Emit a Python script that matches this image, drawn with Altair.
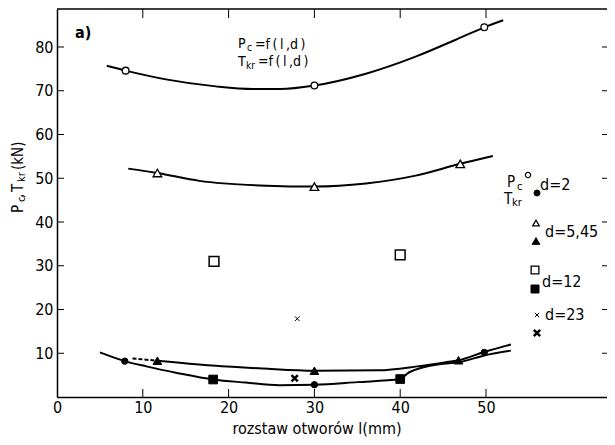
import altair as alt
import pandas as pd

# ---------------- data ----------------
X_TICKS = [0, 10, 20, 30, 40, 50]
Y_TICKS = [10, 20, 30, 40, 50, 60, 70, 80]
INNER_X_TICKS = [10, 20, 30, 40, 50]

# P_c (open markers)
pc_d2_x = [8.0, 30.0, 49.8]
pc_d2_y = [74.6, 71.2, 84.5]
pc_d545_x = [11.7, 30.0, 47.0]
pc_d545_y = [51.2, 48.1, 53.3]
pc_d12_x = [18.3, 40.0]
pc_d12_y = [31.0, 32.5]
pc_d23_x = [28.0]
pc_d23_y = [17.9]

# T_kr (filled markers)
tkr_d2_x = [7.9, 30.0, 49.8]
tkr_d2_y = [8.2, 2.8, 10.2]
tkr_d545_x = [11.7, 30.0, 46.8]
tkr_d545_y = [8.3, 6.0, 8.4]
tkr_d12_x = [18.2, 40.0]
tkr_d12_y = [4.0, 4.1]
tkr_d23_x = [27.7]
tkr_d23_y = [4.3]

# hand-drawn curves
curve_pc_d2_x = [5.8, 8.0, 12.7, 18.5, 22.8, 26.0, 30.0, 36.0, 41.8, 46.4, 49.8, 52.0]
curve_pc_d2_y = [75.7, 74.6, 72.6, 71.0, 70.4, 70.4, 71.2, 73.9, 77.8, 81.6, 84.5, 86.1]
curve_pc_d545_x = [8.3, 11.7, 16.6, 24.4, 30.0, 36.0, 41.8, 47.0, 50.8]
curve_pc_d545_y = [52.2, 51.2, 49.4, 48.3, 48.1, 48.8, 50.6, 53.3, 55.1]
curve_tkr_up_x = [11.7, 18.1, 24.0, 30.0, 37.5, 42.0, 45.2, 46.8, 49.8, 52.9]
curve_tkr_up_y = [8.3, 7.2, 6.5, 6.0, 6.1, 7.0, 7.9, 8.4, 10.3, 12.0]
curve_tkr_up_dash_x = [8.8, 11.7]
curve_tkr_up_dash_y = [8.8, 8.3]
curve_tkr_low_x = [5.0, 7.9, 10.4, 14.0, 18.2, 22.0, 25.9, 30.0, 35.0, 40.0, 41.0, 45.0, 47.0, 49.8, 52.9]
curve_tkr_low_y = [10.2, 8.2, 7.0, 5.5, 4.0, 3.3, 2.7, 2.8, 3.4, 4.1, 5.6, 7.6, 8.0, 9.5, 10.6]

# ---------------- layout ----------------
X0_PAGE, Y0_PAGE = 57, 397          # page position of the data origin
TOP_PAGE = 9
W, H = 550, Y0_PAGE - TOP_PAGE
PXU_X, PXU_Y = 8.58, (Y0_PAGE - 47) / 80.0   # pixels per data unit
XMAX, YMAX = W / PXU_X, H / PXU_Y
FONT = "DejaVu Sans Condensed, Liberation Sans Narrow, Roboto Condensed, DejaVu Sans, sans-serif"
XPATH = "M-1,-1L1,1M-1,1L1,-1"

def dx(p):
    return (p - X0_PAGE) / PXU_X

def dy(p):
    return (Y0_PAGE - p) / PXU_Y

xs = alt.Scale(domain=[0, XMAX], nice=False, zero=False)
ys = alt.Scale(domain=[0, YMAX], nice=False, zero=False)
XAX = alt.Axis(values=X_TICKS, format="d", title=None, labelFlush=False, ticks=False, grid=False,
               labelPadding=2, labelFontSize=16, labelFont=FONT, labelColor="black",
               domainColor="black", domainWidth=1.5)
YAX = alt.Axis(values=Y_TICKS, format="d", title=None, labelFlush=False, ticks=False, grid=False,
               labelPadding=4, labelFontSize=16, labelFont=FONT, labelColor="black",
               domainColor="black", domainWidth=1.5)

def X(f="x"):
    return alt.X(f"{f}:Q", scale=xs, axis=XAX)

def Y(f="y"):
    return alt.Y(f"{f}:Q", scale=ys, axis=YAX)

# ---------- curves ----------
def curve_df(name, xv, yv):
    return pd.DataFrame({"x": xv, "y": yv, "s": name})

curves = pd.concat([
    curve_df("pc2", curve_pc_d2_x, curve_pc_d2_y),
    curve_df("pc545", curve_pc_d545_x, curve_pc_d545_y),
    curve_df("tup", curve_tkr_up_x, curve_tkr_up_y),
    curve_df("tlow", curve_tkr_low_x, curve_tkr_low_y),
])
lines = alt.Chart(curves).mark_line(color="black", strokeWidth=2, interpolate="monotone").encode(
    x=X(), y=Y(), detail="s:N", order=alt.Order("x:Q"))
dash = alt.Chart(curve_df("tdash", curve_tkr_up_dash_x, curve_tkr_up_dash_y)).mark_line(
    color="black", strokeWidth=2, strokeDash=[4, 2]).encode(x=X(), y=Y())

# ---------- markers ----------
def marker_df(xv, yv, shape, size, sw, fill):
    return pd.DataFrame({"x": xv, "y": yv, "shape": shape, "size": size, "sw": sw, "fill": fill})

markers = pd.concat([
    marker_df(pc_d2_x, pc_d2_y, "circle", 45, 1.3, "white"),
    marker_df(pc_d545_x, pc_d545_y, "triangle-up", 75, 1.3, "white"),
    marker_df(pc_d12_x, pc_d12_y, "square", 95, 1.5, "white"),
    marker_df(pc_d23_x, pc_d23_y, XPATH, 22, 1.0, "black"),
    marker_df(tkr_d2_x, tkr_d2_y, "circle", 40, 1.0, "black"),
    marker_df(tkr_d545_x, tkr_d545_y, "triangle-up", 75, 1.0, "black"),
    marker_df(tkr_d12_x, tkr_d12_y, "square", 75, 1.0, "black"),
    marker_df(tkr_d23_x, tkr_d23_y, XPATH, 40, 2.5, "black"),
])

# legend symbols of the hand-drawn key (page positions)
leg = [
    (528, 175, "circle", 28, 1.2, "white"),
    (537, 193, "circle", 36, 1.0, "black"),
    (536, 223, "triangle-up", 45, 1.2, "white"),
    (536, 241, "triangle-up", 60, 1.0, "black"),
    (535, 270, "square", 60, 1.3, "white"),
    (535, 289, "square", 64, 1.0, "black"),
    (537, 315, XPATH, 18, 1.0, "black"),
    (537, 333, XPATH, 40, 2.5, "black"),
]
leg_df = pd.DataFrame({
    "x": [dx(r[0]) for r in leg], "y": [dy(r[1]) for r in leg],
    "shape": [r[2] for r in leg], "size": [r[3] for r in leg],
    "sw": [r[4] for r in leg], "fill": [r[5] for r in leg]})
markers = pd.concat([markers, leg_df])

points = alt.Chart(markers).mark_point(filled=True, stroke="black", opacity=1).encode(
    x=X(), y=Y(),
    shape=alt.Shape("shape:N", scale=None),
    size=alt.Size("size:Q", scale=None),
    strokeWidth=alt.StrokeWidth("sw:Q", scale=None),
    fill=alt.Fill("fill:N", scale=None),
)

# ---------- texts (page positions) ----------
TS = "\u2009"
FX = "=f" + TS + "(" + TS + "l" + TS + ",d" + TS + ")"
texts = [
    # formula
    ("P", 238, 48, 14), ("c", 247, 51, 10), (FX, 255, 49, 14),
    ("T", 238, 66, 14), ("kr", 246, 69, 10), (FX, 258, 66, 14),
    # key
    ("P", 507, 187, 15), ("c", 517, 190, 11), ("d=2", 540, 190, 16),
    ("T", 504, 204, 15), ("kr", 512, 206, 11),
    ("d=5,45", 545, 237, 16), ("d=12", 542, 287, 16), ("d=23", 545, 320, 16),
]
txt_df = pd.DataFrame({"t": [r[0] for r in texts], "x": [dx(r[1]) for r in texts],
                       "y": [dy(r[2]) for r in texts], "fs": [r[3] for r in texts]})
txt = alt.Chart(txt_df).mark_text(align="left", baseline="alphabetic", font=FONT, color="black").encode(
    x=X(), y=Y(), text="t:N", size=alt.Size("fs:Q", scale=None))

a_df = pd.DataFrame({"t": ["a)"], "x": [dx(75)], "y": [dy(38)]})
a_lbl = alt.Chart(a_df).mark_text(align="left", baseline="alphabetic", font=FONT, fontSize=16,
                                  fontWeight="bold", color="black").encode(x=X(), y=Y(), text="t:N")

yt = [("P", 18, 213, 15), ("c", 22, 202, 11), (",", 18, 198, 15), ("T", 18, 192, 15),
      ("kr", 22, 182, 11), ("(kN)", 18, 170, 15)]
yt_df = pd.DataFrame({"t": [r[0] for r in yt], "x": [dx(r[1]) for r in yt],
                      "y": [dy(r[2]) for r in yt], "fs": [r[3] for r in yt]})
ytitle = alt.Chart(yt_df).mark_text(align="left", baseline="middle", angle=270, font=FONT,
                                    color="black").encode(
    x=X(), y=Y(), text="t:N", size=alt.Size("fs:Q", scale=None))

xt_df = pd.DataFrame({"t": ["rozstaw  otworów  l(mm)"], "x": [dx(317)], "y": [dy(434)]})
xtitle = alt.Chart(xt_df).mark_text(align="center", baseline="alphabetic", font=FONT, fontSize=16,
                                    color="black").encode(x=X(), y=Y(), text="t:N")

# ---------- axes & frame ----------
base_axes = alt.Chart(pd.DataFrame({"x": [0.0, XMAX], "y": [0.0, YMAX]})).mark_point(opacity=0).encode(
    x=X(), y=Y())

xt_ticks = pd.DataFrame({"x": INNER_X_TICKS})
yt_ticks = pd.DataFrame({"y": Y_TICKS})
bottom_ticks = alt.Chart(xt_ticks).mark_rule(color="black", strokeWidth=1).encode(
    x=X(), y=alt.value(H), y2=alt.value(H - 8))
top_ticks = alt.Chart(xt_ticks).mark_rule(color="black", strokeWidth=1).encode(
    x=X(), y=alt.value(0), y2=alt.value(9))
left_ticks = alt.Chart(yt_ticks).mark_rule(color="black", strokeWidth=1).encode(
    y=Y(), x=alt.value(0), x2=alt.value(7))
right_ticks = alt.Chart(yt_ticks).mark_rule(color="black", strokeWidth=1).encode(
    y=Y(), x=alt.value(W - 5), x2=alt.value(W))
top_line = alt.Chart(pd.DataFrame({"k": [0]})).mark_rule(color="black", strokeWidth=1.5).encode(
    x=alt.value(0), x2=alt.value(W), y=alt.value(0))

chart = alt.layer(
    base_axes, top_line, bottom_ticks, top_ticks, left_ticks, right_ticks,
    lines, dash, points, txt, a_lbl, ytitle, xtitle,
).properties(
    width=W, height=H,
    autosize=alt.AutoSizeParams(type="none"),
    padding={"left": 49, "top": 1, "right": 0, "bottom": 40},
).configure_view(stroke=None)

chart.save("out.html", embed_options={"renderer": "svg", "actions": False})
